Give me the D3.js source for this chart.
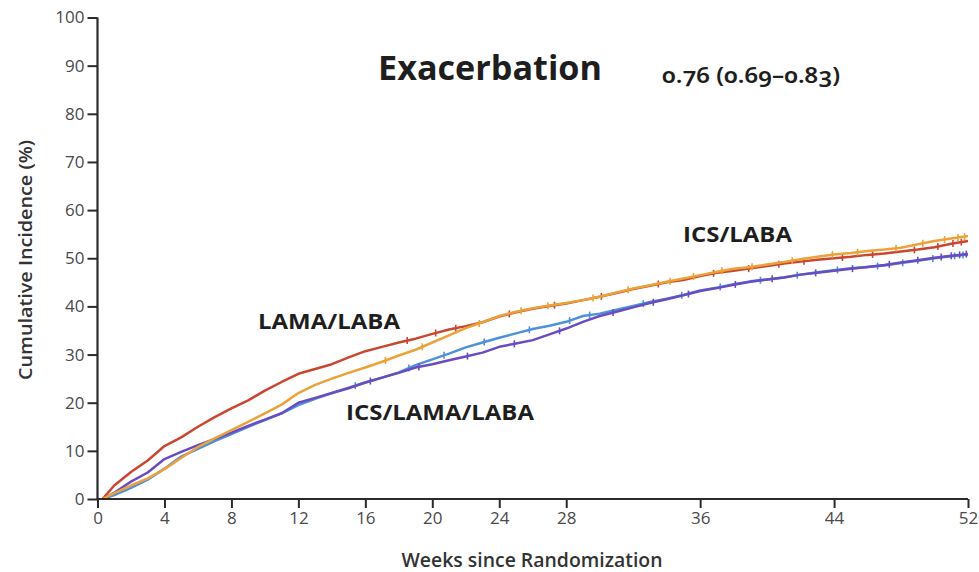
<!DOCTYPE html>
<html>
<head>
<meta charset="utf-8">
<script src="https://cdn.jsdelivr.net/npm/d3@7/dist/d3.min.js"></script>
<style>
  html, body { margin: 0; padding: 0; background: #fff; }
  svg { display: block; }
</style>
</head>
<body>
<script>
// Time grid (weeks since randomization) shared by every curve
const weeks = [0.3, 1, 2, 3, 4, 5, 6, 7, 8, 9, 10, 11, 12, 13, 14, 15, 16, 17, 18, 19, 20,
  21, 22, 23, 24, 25, 26, 27, 28, 29, 30, 31, 32, 33, 34, 35, 36, 37, 38, 39, 40,
  41, 42, 43, 44, 45, 46, 47, 48, 49, 50, 51, 52];

// Cumulative incidence (%) per treatment arm
const lamaLaba = [0, 2.8, 5.6, 8.0, 11.0, 12.8, 15.0, 17.0, 18.8, 20.5, 22.5, 24.3, 26.0, 27.0, 28.0,
  29.4, 30.7, 31.6, 32.5, 33.3, 34.3, 35.2, 35.9, 36.7, 37.9, 38.8, 39.5, 40.1, 40.6, 41.3, 42.0,
  42.8, 43.6, 44.3, 45.0, 45.5, 46.3, 47.0, 47.4, 47.9, 48.4, 48.9, 49.3, 49.7, 50.0, 50.3, 50.7,
  51.0, 51.4, 51.8, 52.3, 53.0, 53.6];
const icsLaba = [0, 1.2, 2.8, 4.3, 6.2, 8.5, 10.8, 12.6, 14.3, 16.0, 17.8, 19.6, 22.0, 23.7, 25.0,
  26.2, 27.3, 28.5, 29.8, 31.0, 32.5, 34.0, 35.5, 36.7, 38.0, 38.9, 39.6, 40.2, 40.7, 41.3, 42.0,
  42.9, 43.7, 44.4, 45.1, 45.8, 46.5, 47.2, 47.8, 48.2, 48.7, 49.2, 49.8, 50.3, 50.8, 51.1, 51.5,
  51.8, 52.2, 52.9, 53.6, 54.1, 54.6];
const tripleBlue = [0, 0.8, 2.3, 4.0, 6.3, 8.8, 10.4, 12.0, 13.5, 15.0, 16.4, 17.8, 19.5, 20.8, 22.0,
  23.1, 24.2, 25.2, 26.3, 27.8, 29.0, 30.2, 31.5, 32.5, 33.5, 34.4, 35.3, 36.0, 36.8, 38.0, 38.5,
  39.3, 40.1, 40.9, 41.6, 42.4, 43.3, 43.9, 44.6, 45.2, 45.6, 46.0, 46.6, 47.1, 47.5, 47.9, 48.2,
  48.5, 49.0, 49.5, 50.0, 50.4, 50.8];
const triplePurple = [0, 1.3, 3.6, 5.5, 8.3, 9.8, 11.2, 12.5, 13.8, 15.2, 16.5, 17.8, 20.0, 21.0, 22.0,
  23.0, 24.2, 25.2, 26.2, 27.3, 28.0, 28.8, 29.6, 30.4, 31.6, 32.3, 33.0, 34.2, 35.4, 36.8, 38.0,
  38.9, 39.8, 40.7, 41.5, 42.3, 43.2, 43.8, 44.5, 45.1, 45.6, 46.0, 46.6, 47.0, 47.4, 47.8, 48.2,
  48.6, 49.1, 49.6, 50.1, 50.5, 50.9];

// Censoring times (weeks) marked on each curve
const censorRed = [18.5, 20.2, 21.4, 24.6, 27.3, 30.1, 33.5, 36.8, 38.9, 40.7, 42.2, 44.5, 46.3, 48.8, 50.2, 51.1, 51.6];
const censorOrange = [17.2, 19.4, 22.8, 25.3, 26.9, 29.6, 31.7, 34.2, 35.6, 37.3, 39.1, 41.5, 43.9, 45.4, 47.7, 49.3, 50.6, 51.4, 51.8];
const censorBlue = [15.4, 18.6, 20.7, 23.1, 25.8, 28.2, 29.4, 32.6, 34.9, 37.2, 39.6, 41.8, 44.2, 46.6, 48.1, 49.9, 51.2, 51.7];
const censorPurple = [16.3, 19.2, 22.1, 24.9, 27.6, 30.8, 33.2, 35.3, 38.1, 40.3, 42.9, 45.1, 47.3, 49.0, 50.4, 51.0, 51.5, 51.9];

// Axis ticks
const xTicks = [0, 4, 8, 12, 16, 20, 24, 28, 36, 44, 52];
const yTicks = [0, 10, 20, 30, 40, 50, 60, 70, 80, 90, 100];

// Text
const title = "Exacerbation";
const hazardText = "0.76 (0.69–0.83)";
const xLabel = "Weeks since Randomization";
const yLabel = "Cumulative Incidence (%)";
const seriesLabels = ["LAMA/LABA", "ICS/LAMA/LABA", "ICS/LABA"];

const W = 979, H = 572;
const svg = d3.select("body").append("svg").attr("width", W).attr("height", H);

const x = d3.scaleLinear().domain([0, 52]).range([97.5, 968]);
const y = d3.scaleLinear().domain([0, 100]).range([499, 17.5]);

const series = [
  { values: tripleBlue, censor: censorBlue, color: "#4f91d8" },
  { values: triplePurple, censor: censorPurple, color: "#6a4cc2" },
  { values: lamaLaba, censor: censorRed, color: "#cb4630" },
  { values: icsLaba, censor: censorOrange, color: "#eca23a" }
];

const line = d3.line()
  .x(d => x(d[0]))
  .y(d => y(d[1]))
  .curve(d3.curveLinear);

const gLines = svg.append("g");
series.forEach(s => {
  const pts = weeks.map((w, i) => [w, s.values[i]]);
  gLines.append("path")
    .datum(pts)
    .attr("fill", "none")
    .attr("stroke", s.color)
    .attr("stroke-width", 2.5)
    .attr("stroke-linejoin", "round")
    .attr("d", line);
  // censoring ticks placed on the curve
  const interp = w => {
    const i = d3.bisectRight(weeks, w);
    const i0 = Math.max(0, i - 1), i1 = Math.min(weeks.length - 1, i);
    const t = i1 === i0 ? 0 : (w - weeks[i0]) / (weeks[i1] - weeks[i0]);
    return s.values[i0] + t * (s.values[i1] - s.values[i0]);
  };
  gLines.selectAll(null)
    .data(s.censor)
    .enter().append("line")
    .attr("x1", d => x(d)).attr("x2", d => x(d))
    .attr("y1", d => y(interp(d)) - 3.5)
    .attr("y2", d => y(interp(d)) + 3.5)
    .attr("stroke", s.color)
    .attr("stroke-width", 1.6);
});

// Axes
const axisColor = "#2b2b2b";
const gx = svg.append("g")
  .attr("transform", `translate(0,${y(0)})`)
  .call(d3.axisBottom(x).tickValues(xTicks).tickSize(9).tickPadding(4).tickSizeOuter(0));
const gy = svg.append("g")
  .attr("transform", `translate(${x(0)},0)`)
  .call(d3.axisLeft(y).tickValues(yTicks).tickSize(10).tickPadding(3).tickSizeOuter(0));

[gx, gy].forEach(g => {
  g.select(".domain").attr("stroke", axisColor).attr("stroke-width", 2.2);
  g.selectAll(".tick line").attr("stroke", axisColor).attr("stroke-width", 2);
  g.selectAll(".tick text")
    .attr("fill", "#4a4a4a")
    .style("font-family", "'Open Sans', sans-serif")
    .style("font-size", "17px");
});
gx.select(".domain").attr("d", `M${x(0)},0H${x(52)}`);
gy.select(".domain").attr("d", `M0,${y(0)}V${y(100)}`);

// Axis titles
svg.append("text")
  .attr("x", 532).attr("y", 567)
  .attr("text-anchor", "middle")
  .attr("fill", "#333")
  .attr("textLength", 261)
  .attr("lengthAdjust", "spacingAndGlyphs")
  .style("font-family", "'Open Sans', sans-serif")
  .style("font-weight", 600)
  .style("font-size", "19px")
  .text(xLabel);

svg.append("text")
  .attr("transform", "translate(32,260) rotate(-90)")
  .attr("text-anchor", "middle")
  .attr("fill", "#333")
  .attr("textLength", 240)
  .attr("lengthAdjust", "spacingAndGlyphs")
  .style("font-family", "'Open Sans', sans-serif")
  .style("font-weight", 600)
  .style("font-size", "18px")
  .text(yLabel);

// Title and hazard ratio
svg.append("text")
  .attr("x", 378).attr("y", 80)
  .attr("fill", "#1e1e1e")
  .attr("textLength", 224)
  .attr("lengthAdjust", "spacingAndGlyphs")
  .style("font-family", "'Open Sans', sans-serif")
  .style("font-weight", 700)
  .style("font-size", "34px")
  .text(title);

svg.append("text")
  .attr("x", 662).attr("y", 83)
  .attr("fill", "#1e1e1e")
  .attr("textLength", 178)
  .attr("lengthAdjust", "spacingAndGlyphs")
  .style("font-family", "'Noto Sans', sans-serif")
  .style("font-weight", 600)
  .style("font-size", "22px")
  .style("font-variant-numeric", "oldstyle-nums")
  .text(hazardText);

// Curve labels
const labelPos = [[258, 329, 142], [346, 420, 188], [683, 242, 109]];
seriesLabels.forEach((t, i) => {
  svg.append("text")
    .attr("x", labelPos[i][0]).attr("y", labelPos[i][1])
    .attr("fill", "#1e1e1e")
    .attr("textLength", labelPos[i][2])
    .attr("lengthAdjust", "spacingAndGlyphs")
    .style("font-family", "'Open Sans', sans-serif")
    .style("font-weight", 700)
    .style("font-size", "22px")
    .text(t);
});
</script>
</body>
</html>
